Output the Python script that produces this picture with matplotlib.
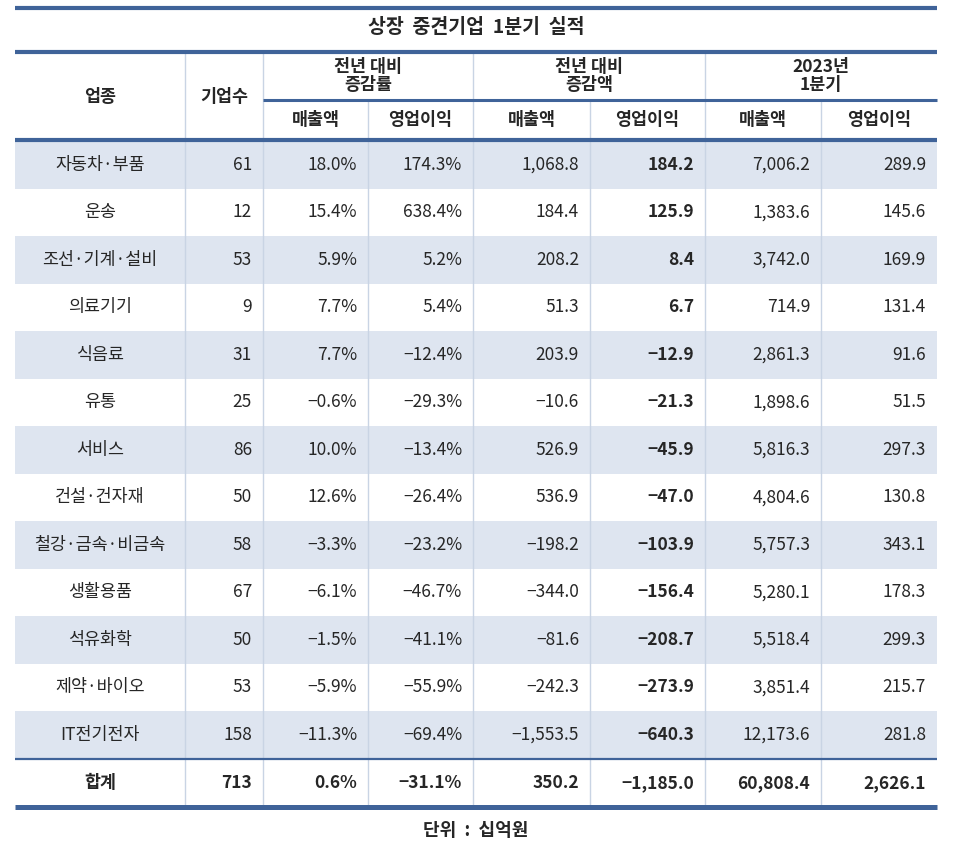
import matplotlib
matplotlib.use("Agg")
import matplotlib.pyplot as plt
from matplotlib.patches import Rectangle

plt.rcParams['font.family'] = ['Noto Sans CJK KR', 'DejaVu Sans']

title = "상장  중견기업  1분기  실적"
unit_note = "단위  :  십억원"

industries = ["자동차·부품", "운송", "조선·기계·설비", "의료기기", "식음료", "유통",
              "서비스", "건설·건자재", "철강·금속·비금속", "생활용품", "석유화학",
              "제약·바이오", "IT전기전자"]
firm_counts = [61, 12, 53, 9, 31, 25, 86, 50, 58, 67, 50, 53, 158]
rate_sales = [18.0, 15.4, 5.9, 7.7, 7.7, -0.6, 10.0, 12.6, -3.3, -6.1, -1.5, -5.9, -11.3]
rate_profit = [174.3, 638.4, 5.2, 5.4, -12.4, -29.3, -13.4, -26.4, -23.2, -46.7,
               -41.1, -55.9, -69.4]
diff_sales = [1068.8, 184.4, 208.2, 51.3, 203.9, -10.6, 526.9, 536.9, -198.2, -344.0,
              -81.6, -242.3, -1553.5]
diff_profit = [184.2, 125.9, 8.4, 6.7, -12.9, -21.3, -45.9, -47.0, -103.9, -156.4,
               -208.7, -273.9, -640.3]
q1_sales = [7006.2, 1383.6, 3742.0, 714.9, 2861.3, 1898.6, 5816.3, 4804.6, 5757.3,
            5280.1, 5518.4, 3851.4, 12173.6]
q1_profit = [289.9, 145.6, 169.9, 131.4, 91.6, 51.5, 297.3, 130.8, 343.1, 178.3,
             299.3, 215.7, 281.8]

total_label = "합계"
total_values = [713, 0.6, -31.1, 350.2, -1185.0, 60808.4, 2626.1]

group_labels = ["전년 대비\n증감률", "전년 대비\n증감액", "2023년\n1분기"]
sub_labels = ["매출액", "영업이익"]

# layout (pixels)
W, H = 960, 850
x_edges = [15, 185, 263, 368, 473, 590, 705, 821, 937]
row_top = 141
row_h = 47.5
total_top = 759
total_bot = 807

DARK = "#3f6399"
SHADE = "#dee5f0"
GRID = "#c9d4e4"
TXT = "#262626"


def fmt(v, pct=False):
    s = "{:,.1f}".format(v).replace("-", "−")
    return s + "%" if pct else s


fig = plt.figure(figsize=(W / 100, H / 100), dpi=100)
ax = fig.add_axes([0, 0, 1, 1])
ax.set_xlim(0, W)
ax.set_ylim(H, 0)
ax.axis("off")

# row shading
for i in range(len(industries)):
    if i % 2 == 0:
        ax.add_patch(Rectangle((x_edges[0], row_top + i * row_h), x_edges[-1] - x_edges[0],
                               row_h, color=SHADE, lw=0, zorder=0))

# vertical grid lines
for j, x in enumerate(x_edges[1:-1]):
    top = 100 if j in (2, 4, 6) else 54
    ax.plot([x, x], [top, total_bot], color=GRID, lw=1, zorder=1)

# horizontal rules
ax.plot([x_edges[0], x_edges[-1]], [8, 8], color=DARK, lw=3, solid_capstyle="butt")
ax.plot([x_edges[0], x_edges[-1]], [52, 52], color=DARK, lw=3, solid_capstyle="butt")
ax.plot([x_edges[2], x_edges[-1]], [100, 100], color=DARK, lw=2.2, solid_capstyle="butt")
ax.plot([x_edges[0], x_edges[-1]], [140, 140], color=DARK, lw=3, solid_capstyle="butt")
ax.plot([x_edges[0], x_edges[-1]], [total_top, total_top], color=DARK, lw=1.6,
        solid_capstyle="butt")
ax.plot([x_edges[0], x_edges[-1]], [total_bot, total_bot], color=DARK, lw=3.6,
        solid_capstyle="butt")

fs = 12.5
ax.text(476, 27, title, ha="center", va="center", fontsize=14, fontweight="bold", color=TXT)

# header
ax.text((x_edges[0] + x_edges[1]) / 2, 97, "업종", ha="center", va="center",
        fontsize=fs, fontweight="bold", color=TXT)
ax.text((x_edges[1] + x_edges[2]) / 2, 97, "기업수", ha="center", va="center",
        fontsize=fs, fontweight="bold", color=TXT)
for g, lab in enumerate(group_labels):
    xl, xr = x_edges[2 + 2 * g], x_edges[4 + 2 * g]
    ax.text((xl + xr) / 2, 76, lab, ha="center", va="center", fontsize=fs,
            fontweight="bold", color=TXT, linespacing=0.95)
    for k, sl in enumerate(sub_labels):
        a, b = x_edges[2 + 2 * g + k], x_edges[3 + 2 * g + k]
        ax.text((a + b) / 2, 120, sl, ha="center", va="center", fontsize=fs,
                fontweight="bold", color=TXT)

# body
cols = [rate_sales, rate_profit, diff_sales, diff_profit, q1_sales, q1_profit]
pad = 11
for i, name in enumerate(industries):
    yc = row_top + (i + 0.5) * row_h
    ax.text((x_edges[0] + x_edges[1]) / 2, yc, name, ha="center", va="center",
            fontsize=fs, color=TXT)
    ax.text(x_edges[2] - pad, yc, str(firm_counts[i]), ha="right", va="center",
            fontsize=fs, color=TXT)
    for c, col in enumerate(cols):
        ax.text(x_edges[3 + c] - pad, yc, fmt(col[i], pct=c < 2), ha="right",
                va="center", fontsize=fs, color=TXT,
                fontweight="bold" if c == 3 else "normal")

# total row
yc = (total_top + total_bot) / 2
ax.text((x_edges[0] + x_edges[1]) / 2, yc, total_label, ha="center", va="center",
        fontsize=fs, fontweight="bold", color=TXT)
ax.text(x_edges[2] - pad, yc, str(total_values[0]), ha="right", va="center",
        fontsize=fs, fontweight="bold", color=TXT)
for c, v in enumerate(total_values[1:]):
    ax.text(x_edges[3 + c] - pad, yc, fmt(v, pct=c < 2), ha="right", va="center",
            fontsize=fs, fontweight="bold", color=TXT)

ax.text(476, 831, unit_note, ha="center", va="center", fontsize=13,
        fontweight="bold", color=TXT)

fig.savefig("out.png", dpi=100)
